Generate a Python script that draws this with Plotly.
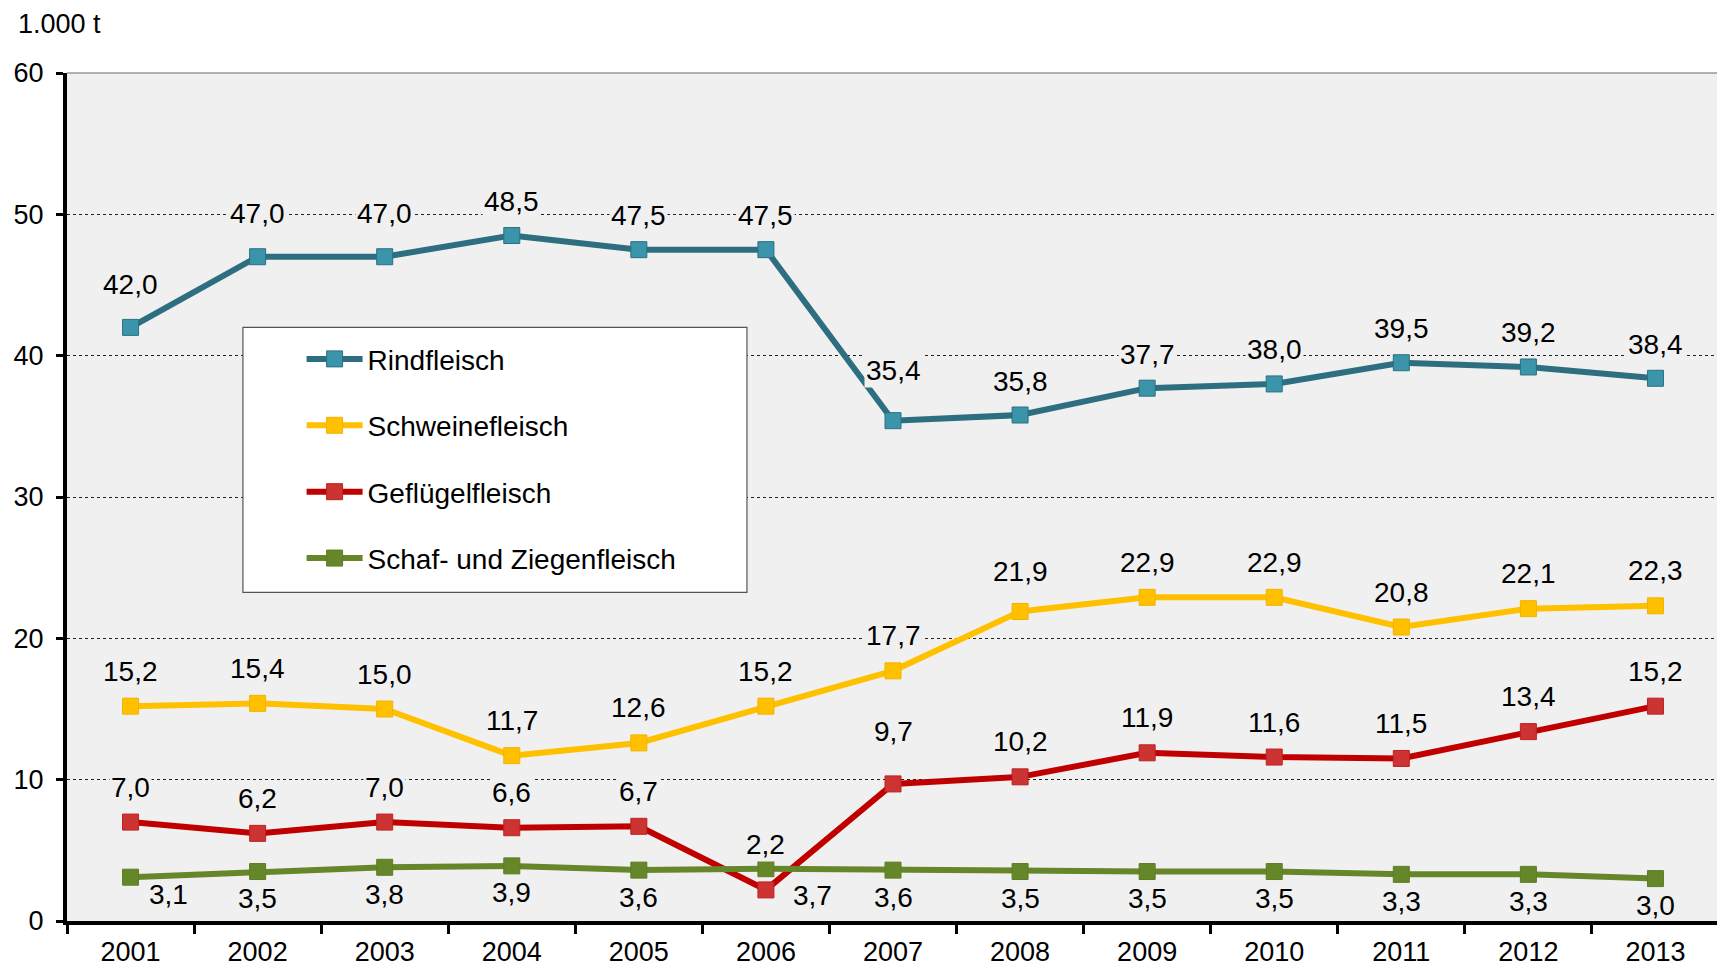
import plotly.graph_objects as go

years = ["2001", "2002", "2003", "2004", "2005", "2006", "2007",
         "2008", "2009", "2010", "2011", "2012", "2013"]
rind = [42.0, 47.0, 47.0, 48.5, 47.5, 47.5, 35.4, 35.8, 37.7, 38.0, 39.5, 39.2, 38.4]
schwein = [15.2, 15.4, 15.0, 11.7, 12.6, 15.2, 17.7, 21.9, 22.9, 22.9, 20.8, 22.1, 22.3]
gefluegel = [7.0, 6.2, 7.0, 6.6, 6.7, 2.2, 9.7, 10.2, 11.9, 11.6, 11.5, 13.4, 15.2]
schaf = [3.1, 3.5, 3.8, 3.9, 3.6, 3.7, 3.6, 3.5, 3.5, 3.5, 3.3, 3.3, 3.0]
y_ticks = [0, 10, 20, 30, 40, 50, 60]

FONT = "Liberation Sans, Arial, sans-serif"
BG = "#f0f0f0"

series = [
    ("Rindfleisch", rind, "#2D6F80", "#3A95AB", "#2D6F80", 34),
    ("Schweinefleisch", schwein, "#FFC000", "#FFC000", "#F0B400", 35),
    ("Geflügelfleisch", gefluegel, "#C00000", "#CC3333", "#C02020", 35),
    ("Schaf- und Ziegenfleisch", schaf, "#66862A", "#66862A", "#5E7E24", -27),
]

fig = go.Figure()
annotations = []
for i, (name, vals, lc, mc, mlc, shift) in enumerate(series):
    fig.add_trace(go.Scatter(
        x=years, y=vals, name=name, mode="lines+markers",
        legendgroup=name,
        line=dict(color=lc, width=6),
        marker=dict(symbol="square", size=16, color=mc, line=dict(color=mlc, width=1)),
    ))
    for j, v in enumerate(vals):
        ys, xs = shift, 0
        bg = BG
        if name == "Rindfleisch" and j in (0, 1, 2):
            ys = 43
        if name == "Rindfleisch" and j == 6:
            ys = 50
        if name == "Schweinefleisch" and j == 7:
            ys = 40
        if name == "Geflügelfleisch" and j == 6:
            ys = 52
        if name == "Geflügelfleisch" and j == 5:
            ys = 45
        if name == "Schaf- und Ziegenfleisch":
            bg = "rgba(0,0,0,0)"
            if j == 0:
                xs, ys = 38, -17
            if j == 5:
                xs = 47
        annotations.append(dict(
            x=j, y=v, xref="x", yref="y", text=f"{v:.1f}".replace(".", ","),
            showarrow=False, yshift=ys, xshift=xs,
            font=dict(family=FONT, size=28, color="black"),
            bgcolor=bg, borderpad=1,
        ))

annotations.append(dict(
    x=-0.03, y=1.0767, xref="paper", yref="paper", text="1.000 t",
    showarrow=False, xanchor="left", yanchor="top", borderpad=0,
    font=dict(family=FONT, size=27, color="black"),
))

# page body adds an 8px offset; compensate in size and margins
fig.update_layout(
    width=1717, height=964,
    margin=dict(l=59, r=6, t=65, b=51, autoexpand=False),
    paper_bgcolor="white", plot_bgcolor=BG,
    font=dict(family=FONT, size=27, color="black"),
    showlegend=True,
    legend=dict(
        x=0.142, y=0.692, xanchor="left", yanchor="top",
        bgcolor="rgba(0,0,0,0)", borderwidth=0,
        font=dict(family=FONT, size=28, color="black"),
        itemwidth=56, traceorder="grouped", tracegroupgap=27,
    ),
    annotations=annotations,
    shapes=[
        dict(type="rect", xref="paper", yref="paper", x0=0.1065, x1=0.4116,
             y0=0.3876, y1=0.700, fillcolor="white",
             line=dict(color="#555555", width=1.2), layer="above"),
        dict(type="line", xref="paper", yref="paper", x0=0, x1=1, y0=1, y1=1,
             line=dict(color="#999999", width=1.5)),
        dict(type="line", xref="paper", yref="paper", x0=1, x1=1, y0=0, y1=1,
             line=dict(color="#999999", width=1.5)),
    ],
)

fig.update_xaxes(
    type="category", categoryorder="array", categoryarray=years,
    range=[-0.5, 12.5], tickson="boundaries", automargin=False,
    showline=True, linecolor="black", linewidth=4,
    ticks="outside", ticklen=9, tickwidth=3, tickcolor="black",
    showgrid=False, zeroline=False,
    tickfont=dict(family=FONT, size=27, color="black"),
    ticklabelstandoff=4,
)
fig.update_yaxes(
    range=[0, 60], tickvals=y_ticks, automargin=False,
    showline=True, linecolor="black", linewidth=4,
    ticks="outside", ticklen=7, tickwidth=3, tickcolor="black",
    showgrid=True, gridcolor="#222222", gridwidth=1, griddash="dot",
    zeroline=False,
    tickfont=dict(family=FONT, size=27, color="black"),
    ticklabelstandoff=7,
)

fig.write_html("out.html")
